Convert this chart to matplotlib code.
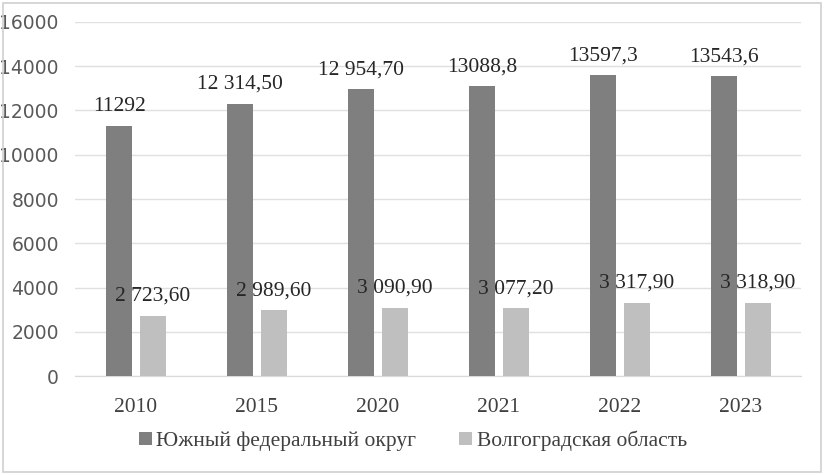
import matplotlib.pyplot as plt
import numpy as np
from matplotlib.patches import Rectangle

# Data
years = ['2010', '2015', '2020', '2021', '2022', '2023']
south = [11292, 12314.5, 12954.7, 13088.8, 13597.3, 13543.6]
volgograd = [2723.6, 2989.6, 3090.9, 3077.2, 3317.9, 3318.9]
south_labels = ['11292', '12 314,50', '12 954,70', '13088,8', '13597,3', '13543,6']
volgograd_labels = ['2 723,60', '2 989,60', '3 090,90', '3 077,20', '3 317,90', '3 318,90']

x = np.arange(len(years))
width = 0.22

fig = plt.figure(figsize=(8.26, 4.75), dpi=100)
ax = fig.add_axes([0.0914, 0.2084, 0.8789, 0.7453])

b1 = ax.bar(x - 0.14, south, width, color='#7f7f7f', zorder=3,
            label='Южный федеральный округ')
b2 = ax.bar(x + 0.14, volgograd, width, color='#bfbfbf', zorder=3,
            label='Волгоградская область')

serif = 'Liberation Serif'
ax.bar_label(b1, labels=south_labels, padding=7, fontsize=15.5,
             family=serif, color='#262626', zorder=4)
ax.bar_label(b2, labels=volgograd_labels, padding=7, fontsize=15.5,
             family=serif, color='#262626', zorder=4)

ax.set_ylim(0, 16000)
ax.set_xlim(-0.5, len(years) - 0.5)
ax.set_yticks(np.arange(0, 16001, 2000))
ax.set_xticks(x, labels=years)
ax.yaxis.grid(True, color='#e0e0e0', linewidth=1, zorder=0)
ax.set_axisbelow(True)
for s in ['left', 'right', 'top']:
    ax.spines[s].set_visible(False)
ax.spines['bottom'].set_color('#d9d9d9')
ax.tick_params(length=0)
ax.tick_params(axis='y', labelsize=13.5, labelcolor='#595959', pad=12)
ax.tick_params(axis='x', pad=16)
for lbl in ax.get_xticklabels():
    lbl.set_fontfamily(serif)
    lbl.set_fontsize(15.5)
    lbl.set_color('#404040')

leg = ax.legend(loc='center', bbox_to_anchor=(0.5, 0.072),
                bbox_transform=fig.transFigure, ncol=2, frameon=False,
                prop={'family': serif, 'size': 15.5},
                handlelength=0.6, handleheight=0.6, handletextpad=0.2,
                columnspacing=2.0)
for t in leg.get_texts():
    t.set_color('#404040')

fig.patches.append(Rectangle((0.004, 0.006), 0.99, 0.988, transform=fig.transFigure,
                             fill=False, edgecolor='#d0d0d0', linewidth=1.2))

fig.savefig('out.png', dpi=100)
